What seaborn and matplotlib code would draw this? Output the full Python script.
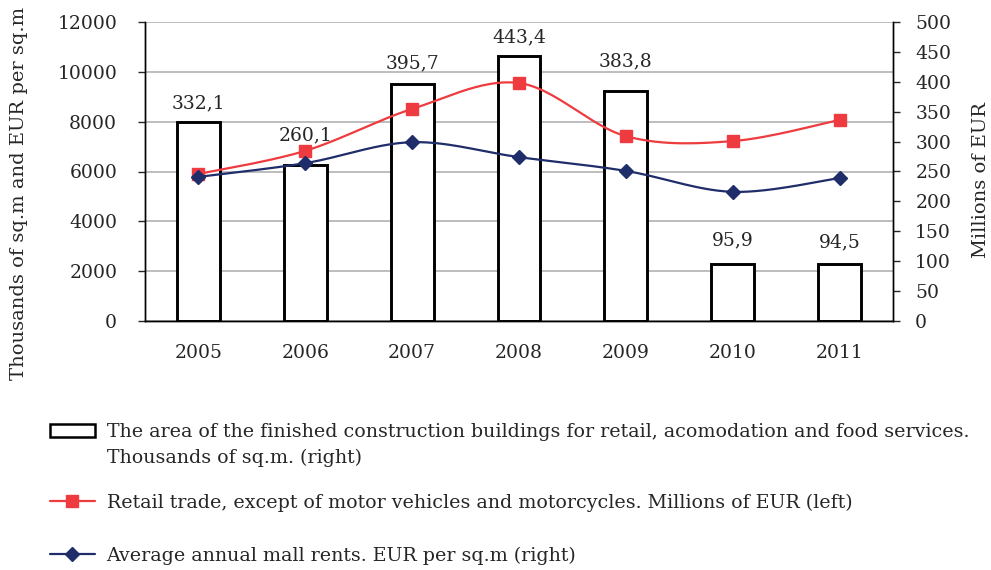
import numpy as np
import matplotlib
matplotlib.use("Agg")
import matplotlib.pyplot as plt
from matplotlib.patches import Patch
from matplotlib.lines import Line2D
import seaborn as sns
import pandas as pd

# ---- data ----
years = ["2005", "2006", "2007", "2008", "2009", "2010", "2011"]
area = [332.1, 260.1, 395.7, 443.4, 383.8, 95.9, 94.5]          # right axis
retail = [5900, 6830, 8510, 9550, 7420, 7220, 8070]             # left axis
rents = [241, 264, 299, 274, 251, 216, 239]                      # right axis

label_area = "The area of the finished construction buildings for retail, acomodation and food services."
label_area2 = "Thousands of sq.m. (right)"
label_retail = "Retail trade, except of motor vehicles and motorcycles. Millions of EUR (left)"
label_rents = "Average annual mall rents. EUR per sq.m (right)"
ylabel_left = "Thousands of sq.m and EUR per sq.m"
ylabel_right = "Millions of EUR"

# style: vertical offsets (points) of the value labels above each bar
label_offsets = [14, 21.5, 15, 13, 22, 16.5, 16]

RED = "#EE3B3F"
BLUE = "#1F2D6B"
GRID = "#B8B8B8"
FS = 13.5
FS_LAB = 14
FS_LEG = 13.7

sns.set_style("white")
plt.rcParams["font.family"] = ["DejaVu Serif"]

def smooth(y, n=30):
    y = np.asarray(y, float)
    x = np.arange(len(y), dtype=float)
    P = np.column_stack([x, y])
    ext = np.vstack([P[0], P, P[-1]])
    out = []
    for i in range(len(P) - 1):
        p0, p1, p2, p3 = ext[i], ext[i + 1], ext[i + 2], ext[i + 3]
        c1 = p1 + (p2 - p0) / 6.0
        c2 = p2 - (p3 - p1) / 6.0
        t = np.linspace(0, 1, n)[:, None]
        seg = ((1 - t) ** 3) * p1 + 3 * ((1 - t) ** 2) * t * c1 + 3 * (1 - t) * t ** 2 * c2 + t ** 3 * p2
        out.append(seg if i == 0 else seg[1:])
    s = np.vstack(out)
    return s[:, 0], s[:, 1]

fig = plt.figure(figsize=(9.91, 5.70), dpi=100)
ax = fig.add_axes([145 / 991, 1 - 321 / 570, (893 - 145) / 991, (321 - 22) / 570])
ax2 = ax.twinx()

df = pd.DataFrame({"year": years, "area": area})
sns.barplot(data=df, x="year", y="area", ax=ax2, color="white", saturation=1,
            edgecolor="black", linewidth=2.1, width=0.4, zorder=2)
for i, (v, off) in enumerate(zip(area, label_offsets)):
    ax2.annotate(f"{v:.1f}".replace(".", ","), xy=(i, v), xytext=(0, off),
                 textcoords="offset points", ha="center", va="center", fontsize=FS, zorder=5)

xs = np.arange(len(years))
# retail (left axis units) drawn on top layer
sx, sy = smooth(retail)
ax2.plot(sx, sy, color=RED, lw=1.6, transform=ax.transData, zorder=3)
ax2.plot(xs, retail, ls="none", marker="s", ms=9.3, color=RED, transform=ax.transData, zorder=3)
# rents (right axis units)
sx, sy = smooth(rents)
ax2.plot(sx, sy, color=BLUE, lw=1.6, zorder=4)
ax2.plot(xs, rents, ls="none", marker="D", ms=6.8, color=BLUE, zorder=4)

ax.set_xlim(-0.5, len(years) - 0.5)
ax.set_ylim(0, 12000)
ax2.set_ylim(0, 500)
ax.set_yticks(np.arange(0, 12001, 2000))
ax2.set_yticks(np.arange(0, 501, 50))
ax.set_xticks(xs)
ax.set_xticklabels(years)
ax.set_xticks(np.arange(-0.5, len(years)), minor=True)
ax.tick_params(axis="x", which="major", length=0, pad=16.5, labelsize=FS)
ax.tick_params(axis="x", which="minor", length=5, width=1, direction="out", color="black")
ax.tick_params(axis="y", length=5, width=1, direction="out", pad=15, labelsize=FS, left=True)
ax2.tick_params(axis="y", length=5, width=1, direction="out", pad=11, labelsize=FS, right=True)

ax.yaxis.grid(True, color=GRID, lw=1.3)
ax.xaxis.grid(False)
ax2.grid(False)
ax.set_axisbelow(True)

for a in (ax, ax2):
    a.spines["top"].set_visible(False)
    for s in ("left", "right", "bottom"):
        a.spines[s].set_color("black")
        a.spines[s].set_linewidth(1)
ax2.set_xlabel("")
ax.set_xlabel("")
ax2.set_ylabel(ylabel_right, fontsize=FS_LAB)
ax.set_ylabel(ylabel_left, fontsize=FS_LAB)
ax.yaxis.set_label_coords(-0.156, 0.425)
ax2.yaxis.set_label_coords(1.1056, 0.472)

# ---- legend ----
def fy(y):
    return 1 - y / 570

x0 = 50 / 991
common = dict(loc="center left", frameon=False, fontsize=FS_LEG, borderpad=0, borderaxespad=0,
              handlelength=2.35, handletextpad=0.62)
fig.legend(handles=[Patch(facecolor="white", edgecolor="black", lw=1.8)], labels=[label_area],
           bbox_to_anchor=(x0, fy(432)), **common)
fig.text(107 / 991, fy(458), label_area2, fontsize=FS_LEG, va="center", ha="left")
fig.legend(handles=[Line2D([], [], color=RED, lw=1.6, marker="s", ms=9.3)], labels=[label_retail],
           bbox_to_anchor=(x0, fy(503)), **common)
fig.legend(handles=[Line2D([], [], color=BLUE, lw=1.6, marker="D", ms=6.8)], labels=[label_rents],
           bbox_to_anchor=(x0, fy(556)), **common)

fig.savefig("out.png", dpi=100)
